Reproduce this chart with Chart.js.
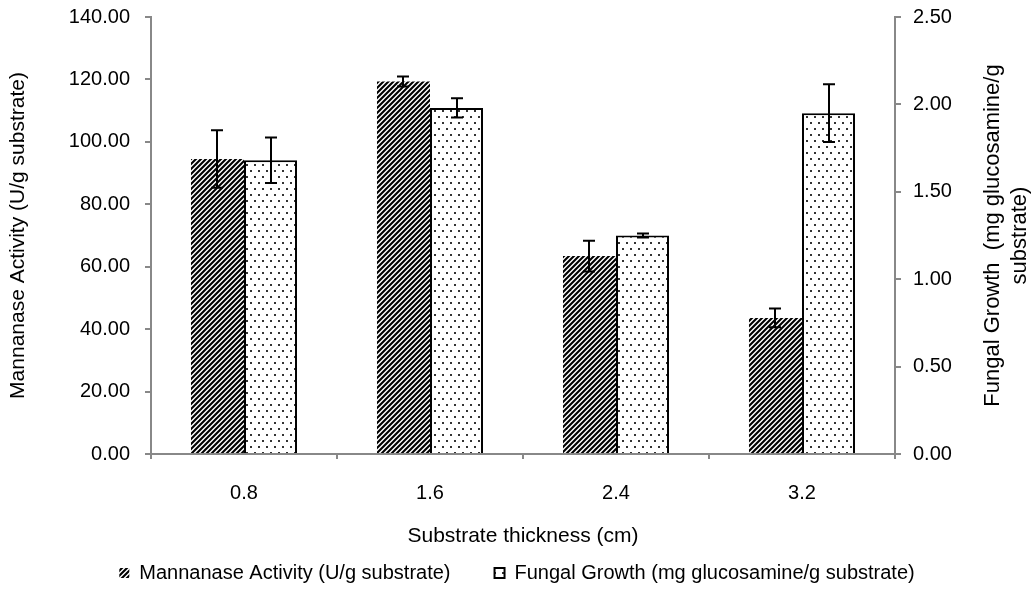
<!DOCTYPE html>
<html>
<head>
<meta charset="utf-8">
<script src="https://cdn.jsdelivr.net/npm/chart.js@4/dist/chart.umd.min.js"></script>
<style>
  html, body { margin: 0; padding: 0; background: #fff; }
  #wrap { width: 1034px; height: 589px; }
</style>
</head>
<body>
<div id="wrap"><canvas id="c"></canvas></div>
<script>
const categories = ['0.8', '1.6', '2.4', '3.2'];
const mannanase = [94.5, 119.3, 63.4, 43.6];
const mannanaseErr = [9.2, 1.6, 4.9, 3.0];
const fungal = [1.68, 1.98, 1.25, 1.95];
const fungalErr = [0.13, 0.055, 0.012, 0.165];
const titleY2 = ['Fungal Growth  (mg glucosamine/g', 'substrate)'];

const FONT = "'Liberation Sans', Arial, sans-serif";
const LEGEND_PAD = 44;

function hatchPattern()
{
    let cv = document.createElement('canvas');
    cv.width = 5; cv.height = 5;
    let g = cv.getContext('2d');
    g.fillStyle = '#fff';
    g.fillRect(0, 0, 5, 5);
    g.strokeStyle = '#000';
    g.lineWidth = 2.1;
    g.beginPath();
    g.moveTo(-1, 6); g.lineTo(6, -1);
    g.moveTo(-3.5, 3.5); g.lineTo(3.5, -3.5);
    g.moveTo(1.5, 8.5); g.lineTo(8.5, 1.5);
    g.stroke();
    return g.createPattern(cv, 'repeat');
}

function dotPattern()
{
    let cv = document.createElement('canvas');
    cv.width = 8; cv.height = 12;
    let g = cv.getContext('2d');
    g.fillStyle = '#fff';
    g.fillRect(0, 0, 8, 12);
    g.fillStyle = '#333';
    g.fillRect(2, 2, 2, 2);
    g.fillRect(6, 8, 2, 2);
    return g.createPattern(cv, 'repeat');
}

// error bars drawn through the dataset's own y scale
const errorBars = {
    id: 'errorBars',
    afterDatasetsDraw(chart)
    {
        let ctx = chart.ctx;
        ctx.save();
        ctx.strokeStyle = '#000';
        ctx.lineWidth = 2;
        chart.data.datasets.forEach((ds, i) =>
        {
            let meta = chart.getDatasetMeta(i);
            let scale = chart.scales[ds.yAxisID];
            meta.data.forEach((bar, j) =>
            {
                let v = ds.data[j], e = ds.errors[j];
                let yTop = scale.getPixelForValue(v + e);
                let yBot = scale.getPixelForValue(v - e);
                let x = Math.round(bar.x);
                ctx.beginPath();
                ctx.moveTo(x, yTop); ctx.lineTo(x, yBot);
                ctx.moveTo(x - 6, yTop); ctx.lineTo(x + 6, yTop);
                ctx.moveTo(x - 6, yBot); ctx.lineTo(x + 6, yBot);
                ctx.stroke();
            });
        });
        ctx.restore();
    }
};

// right axis title reads bottom-to-top like the left one
const rightTitle = {
    id: 'rightTitle',
    afterDraw(chart)
    {
        let ctx = chart.ctx;
        let area = chart.chartArea;
        let cy = (area.top + area.bottom) / 2;
        ctx.save();
        ctx.fillStyle = '#000';
        ctx.font = '22px ' + FONT;
        ctx.textAlign = 'center';
        ctx.textBaseline = 'middle';
        titleY2.forEach((line, i) =>
        {
            ctx.save();
            ctx.translate(area.right + 98 + i * 27, cy);
            ctx.rotate(-Math.PI / 2);
            ctx.fillText(line, 0, 0);
            ctx.restore();
        });
        ctx.restore();
    }
};

// keep the wide gap between legend items but not the tall box
const legendFit = {
    id: 'legendFit',
    beforeLayout(chart)
    {
        let lg = chart.legend;
        if (!lg || lg._fitWrapped) return;
        let fit = lg.fit.bind(lg);
        let draw = lg.draw.bind(lg);
        lg.fit = function () { fit(); this.height = 35; };
        lg.draw = function (area)
        {
            let top = this.top;
            this.top = top - LEGEND_PAD + 9;
            draw(area);
            this.top = top;
        };
        lg._fitWrapped = true;
    }
};

Chart.defaults.font.family = FONT;
Chart.defaults.font.size = 20;
Chart.defaults.color = '#000';

let axisGrid = {
    drawOnChartArea: false,
    drawTicks: true,
    tickLength: 6,
    color: '#888',
    lineWidth: 2,
};

function fitY(width)
{
    return s =>
    {
        s.width = width;
        s.paddingTop = 0;
        s.paddingBottom = 0;
    };
}

let config = {
    type: 'bar',
    data: {
        labels: categories,
        datasets: [
            {
                label: 'Mannanase Activity (U/g substrate)',
                data: mannanase,
                errors: mannanaseErr,
                backgroundColor: hatchPattern(),
                borderColor: '#000',
                borderWidth: 0,
                yAxisID: 'y',
                categoryPercentage: 0.57,
                barPercentage: 1.0,
            },
            {
                label: 'Fungal Growth (mg glucosamine/g substrate)',
                data: fungal,
                errors: fungalErr,
                backgroundColor: dotPattern(),
                borderColor: '#000',
                borderWidth: 2,
                yAxisID: 'y2',
                categoryPercentage: 0.57,
                barPercentage: 1.0,
            },
        ]
    },
    options: {
        responsive: true,
        maintainAspectRatio: false,
        animation: false,
        layout: { padding: { top: 17, left: 0, right: 0, bottom: 0 } },
        scales: {
            x: {
                grid: { ...axisGrid, offset: true, tickLength: 5 },
                border: { color: '#888', width: 2 },
                ticks: { padding: 22, font: { size: 20 } },
                title: { display: true, text: 'Substrate thickness (cm)', font: { size: 21 }, padding: { top: 8, bottom: 5 } },
                afterFit: s => { s.height = 100; },
            },
            y: {
                position: 'left',
                min: 0, max: 140,
                grid: axisGrid,
                border: { color: '#888', width: 2 },
                ticks: { stepSize: 20, padding: 15, callback: v => v.toFixed(2) },
                title: { display: true, text: 'Mannanase Activity (U/g substrate)', font: { size: 21 }, padding: { top: 6, bottom: 10 } },
                afterFit: fitY(151),
            },
            y2: {
                position: 'right',
                min: 0, max: 2.5,
                grid: axisGrid,
                border: { color: '#888', width: 2 },
                ticks: { stepSize: 0.5, padding: 12, callback: v => v.toFixed(2) },
                title: { display: false },
                afterFit: fitY(139),
            },
        },
        plugins: {
            legend: {
                position: 'bottom',
                labels: {
                    boxWidth: 10,
                    boxHeight: 10,
                    padding: LEGEND_PAD,
                    font: { size: 20 },
                },
            },
            tooltip: { enabled: false },
        },
    },
    plugins: [errorBars, rightTitle, legendFit],
};

new Chart('c', config);
</script>
</body>
</html>
